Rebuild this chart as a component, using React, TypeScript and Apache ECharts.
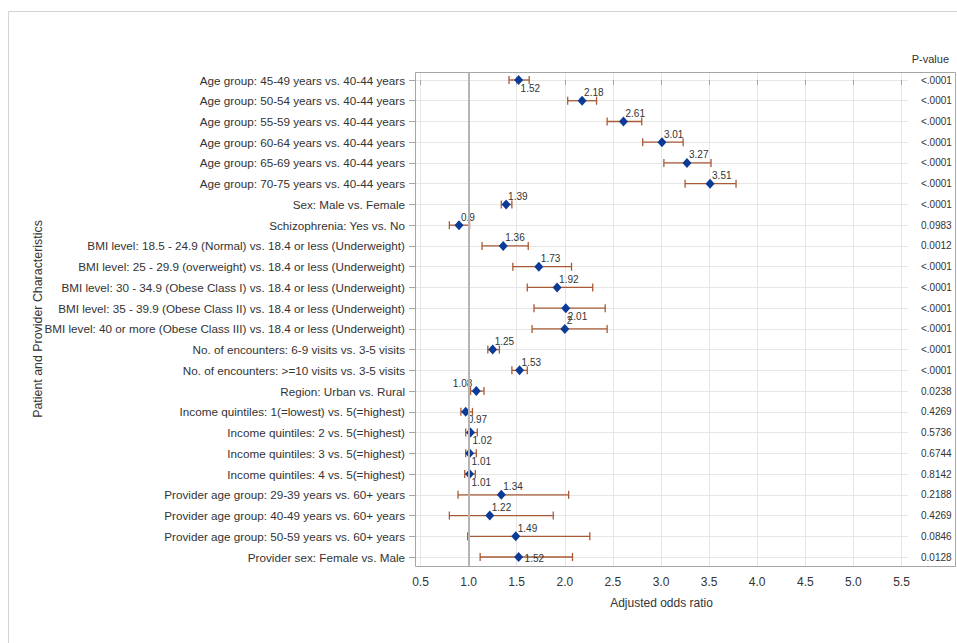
import React, { useEffect, useRef } from "react";
import * as echarts from "echarts";

const categories = [
  "Age group: 45-49 years vs. 40-44 years",
  "Age group: 50-54 years vs. 40-44 years",
  "Age group: 55-59 years vs. 40-44 years",
  "Age group: 60-64 years vs. 40-44 years",
  "Age group: 65-69 years vs. 40-44 years",
  "Age group: 70-75 years vs. 40-44 years",
  "Sex: Male vs. Female",
  "Schizophrenia: Yes vs. No",
  "BMI level: 18.5 - 24.9 (Normal) vs. 18.4 or less (Underweight)",
  "BMI level: 25 - 29.9 (overweight) vs. 18.4 or less (Underweight)",
  "BMI level: 30 - 34.9 (Obese Class I) vs. 18.4 or less (Underweight)",
  "BMI level: 35 - 39.9 (Obese Class II) vs. 18.4 or less (Underweight)",
  "BMI level: 40 or more (Obese Class III) vs. 18.4 or less (Underweight)",
  "No. of encounters: 6-9 visits vs. 3-5 visits",
  "No. of encounters: >=10 visits vs. 3-5 visits",
  "Region: Urban vs. Rural",
  "Income quintiles: 1(=lowest) vs. 5(=highest)",
  "Income quintiles: 2 vs. 5(=highest)",
  "Income quintiles: 3 vs. 5(=highest)",
  "Income quintiles: 4 vs. 5(=highest)",
  "Provider age group: 29-39 years vs. 60+ years",
  "Provider age group: 40-49 years vs. 60+ years",
  "Provider age group: 50-59 years vs. 60+ years",
  "Provider sex: Female vs. Male",
];

const oddsRatios = [
  1.52, 2.18, 2.61, 3.01, 3.27, 3.51, 1.39, 0.9, 1.36, 1.73, 1.92, 2.01, 2,
  1.25, 1.53, 1.08, 0.97, 1.02, 1.01, 1.01, 1.34, 1.22, 1.49, 1.52,
];

const lowerCI = [
  1.42, 2.03, 2.44, 2.81, 3.03, 3.25, 1.34, 0.8, 1.14, 1.46, 1.61, 1.68, 1.66,
  1.2, 1.45, 1.02, 0.92, 0.97, 0.97, 0.96, 0.89, 0.8, 0.99, 1.12,
];

const upperCI = [
  1.63, 2.33, 2.8, 3.23, 3.52, 3.78, 1.45, 1.01, 1.62, 2.07, 2.29, 2.42, 2.44,
  1.32, 1.61, 1.16, 1.04, 1.09, 1.08, 1.07, 2.04, 1.88, 2.26, 2.08,
];

const pValues = [
  "<.0001", "<.0001", "<.0001", "<.0001", "<.0001", "<.0001", "<.0001",
  "0.0983", "0.0012", "<.0001", "<.0001", "<.0001", "<.0001", "<.0001",
  "<.0001", "0.0238", "0.4269", "0.5736", "0.6744", "0.8142", "0.2188",
  "0.4269", "0.0846", "0.0128",
];

const xTicks = [0.5, 1.0, 1.5, 2.0, 2.5, 3.0, 3.5, 4.0, 4.5, 5.0, 5.5];
const referenceValue = 1;

// label placement style per row (tr = top-right, br = bottom-right, tl = top-left, r = right)
const labelPlacement = [
  "br", "tr", "tr", "tr", "tr", "tr", "tr", "tr", "tr", "tr", "tr", "br", "tr",
  "tr", "tr", "tl", "br", "br", "br", "br", "tr", "tr", "tr", "r",
];

const FONT = "'Liberation Sans', Arial, sans-serif";
const TEXT = "#333333";
const MARKER = "#0b3b96";
const ERR = "#a85a35";

const rowIdx = categories.map((_, i) => i);

function placementLabel(p: string) {
  if (p === "br") return { align: "left", offset: [2, 8] };
  if (p === "tl") return { align: "right", offset: [-4, -8] };
  if (p === "r") return { align: "left", offset: [6, 1] };
  return { align: "left", offset: [2, -8] };
}

export default function App() {
  const ref = useRef<HTMLDivElement>(null);

  useEffect(() => {
    if (!ref.current) return;
    const chart = echarts.init(ref.current, undefined, { renderer: "svg" });

    const gridLeft = 415;
    const gridTop = 72;
    const gridWidth = 493;
    const gridHeight = 494;
    // x scale: 0.5 at 420.5, 96.2 px per unit
    const pxPerUnit = 96.2;
    const xMin = 0.5 - (420.5 - gridLeft) / pxPerUnit;
    const xMax = xMin + gridWidth / pxPerUnit;
    // y: row 0 at 80, row spacing 20.74
    const rowH = 20.74;
    const yMin = -(80 - gridTop) / rowH;
    const yMax = yMin + gridHeight / rowH;

    const yAxisCommon = {
      type: "value",
      inverse: true,
      min: yMin,
      max: yMax,
      gridIndex: 0,
    };

    const option: any = {
      animation: false,
      backgroundColor: "#ffffff",
      textStyle: { fontFamily: FONT },
      grid: {
        left: gridLeft,
        top: gridTop,
        width: gridWidth,
        height: gridHeight,
        containLabel: false,
      },
      xAxis: {
        type: "value",
        min: xMin,
        max: xMax,
        name: "Adjusted odds ratio",
        nameLocation: "middle",
        nameGap: 31,
        nameMoveOverlap: false,
        nameTextStyle: { fontFamily: FONT, fontSize: 12, color: TEXT },
        axisLine: { show: false },
        axisTick: {
          show: true,
          customValues: xTicks,
          length: 5,
          lineStyle: { color: "#a6a6a6" },
        },
        axisLabel: {
          customValues: xTicks,
          formatter: (v: number) => v.toFixed(1),
          fontFamily: FONT,
          fontSize: 12,
          color: TEXT,
          margin: 10,
        },
        splitLine: { show: true, lineStyle: { color: "#e6e6e6", width: 1 } },
      },
      yAxis: [
        {
          ...yAxisCommon,
          position: "left",
          name: "Patient and Provider Characteristics",
          nameLocation: "middle",
          nameRotate: 90,
          nameGap: 371,
          nameMoveOverlap: false,
          nameTextStyle: { fontFamily: FONT, fontSize: 12.4, color: TEXT },
          axisLine: { show: false },
          axisTick: {
            show: true,
            customValues: rowIdx,
            length: 6,
            lineStyle: { color: "#a6a6a6" },
          },
          axisLabel: {
            customValues: rowIdx,
            formatter: (v: number) => categories[Math.round(v)] ?? "",
            fontFamily: FONT,
            fontSize: 11.7,
            color: TEXT,
            margin: 10,
          },
          splitLine: { show: true, lineStyle: { color: "#e6e6e6", width: 1 } },
        },
        {
          ...yAxisCommon,
          position: "right",
          axisLine: { show: false },
          axisTick: { show: false, customValues: rowIdx },
          axisLabel: {
            customValues: rowIdx,
            formatter: (v: number) => pValues[Math.round(v)] ?? "",
            fontFamily: FONT,
            fontSize: 10,
            color: TEXT,
            margin: 13,
          },
          splitLine: { show: false },
        },
      ],
      series: [
        {
          type: "line",
          data: [],
          z: 1,
          silent: true,
          markLine: {
            silent: true,
            symbol: "none",
            label: { show: false },
            lineStyle: { color: "#b4b4b4", width: 2, type: "solid" },
            data: [{ xAxis: referenceValue }],
          },
        },
        {
          type: "custom",
          z: 2,
          silent: true,
          encode: { x: [0, 2], y: 1 },
          data: rowIdx.map((i) => [lowerCI[i], i, upperCI[i]]),
          renderItem: (params: any, api: any) => {
            const y = api.value(1);
            const p1 = api.coord([api.value(0), y]);
            const p2 = api.coord([api.value(2), y]);
            const h = 4;
            const style = { stroke: ERR, lineWidth: 1.3 };
            return {
              type: "group",
              children: [
                { type: "line", shape: { x1: p1[0], y1: p1[1], x2: p2[0], y2: p2[1] }, style },
                { type: "line", shape: { x1: p1[0], y1: p1[1] - h, x2: p1[0], y2: p1[1] + h }, style },
                { type: "line", shape: { x1: p2[0], y1: p2[1] - h, x2: p2[0], y2: p2[1] + h }, style },
              ],
            };
          },
        },
        {
          type: "scatter",
          z: 3,
          symbol: "diamond",
          symbolSize: [9, 10],
          itemStyle: { color: MARKER, opacity: 1 },
          data: rowIdx.map((i) => {
            const pl = placementLabel(labelPlacement[i]);
            return {
              value: [oddsRatios[i], i],
              label: {
                show: true,
                position: "inside",
                align: pl.align,
                verticalAlign: "middle",
                offset: pl.offset,
                formatter: String(oddsRatios[i]),
                fontFamily: FONT,
                fontSize: 10,
                color: TEXT,
              },
            };
          }),
        },
      ],
      graphic: [
        {
          type: "rect",
          z: 100,
          silent: true,
          shape: { x: 415.5, y: 72.5, width: 540, height: 494 },
          style: { fill: "none", stroke: "#a6a6a6", lineWidth: 1 },
        },
        {
          type: "line",
          silent: true,
          shape: { x1: 8.5, y1: 11.5, x2: 957, y2: 11.5 },
          style: { stroke: "#d4d4d4", lineWidth: 1 },
        },
        {
          type: "line",
          silent: true,
          shape: { x1: 8.5, y1: 11.5, x2: 8.5, y2: 643 },
          style: { stroke: "#d4d4d4", lineWidth: 1 },
        },
        {
          type: "text",
          silent: true,
          x: 949,
          y: 59,
          style: {
            text: "P-value",
            fontFamily: FONT,
            fontSize: 11,
            fill: TEXT,
            align: "right",
            verticalAlign: "middle",
          },
        },
      ],
    };

    chart.setOption(option);
    return () => chart.dispose();
  }, []);

  return (
    <div
      ref={ref}
      style={{ position: "fixed", left: 0, top: 0, width: 957, height: 643, background: "#fff" }}
    />
  );
}
